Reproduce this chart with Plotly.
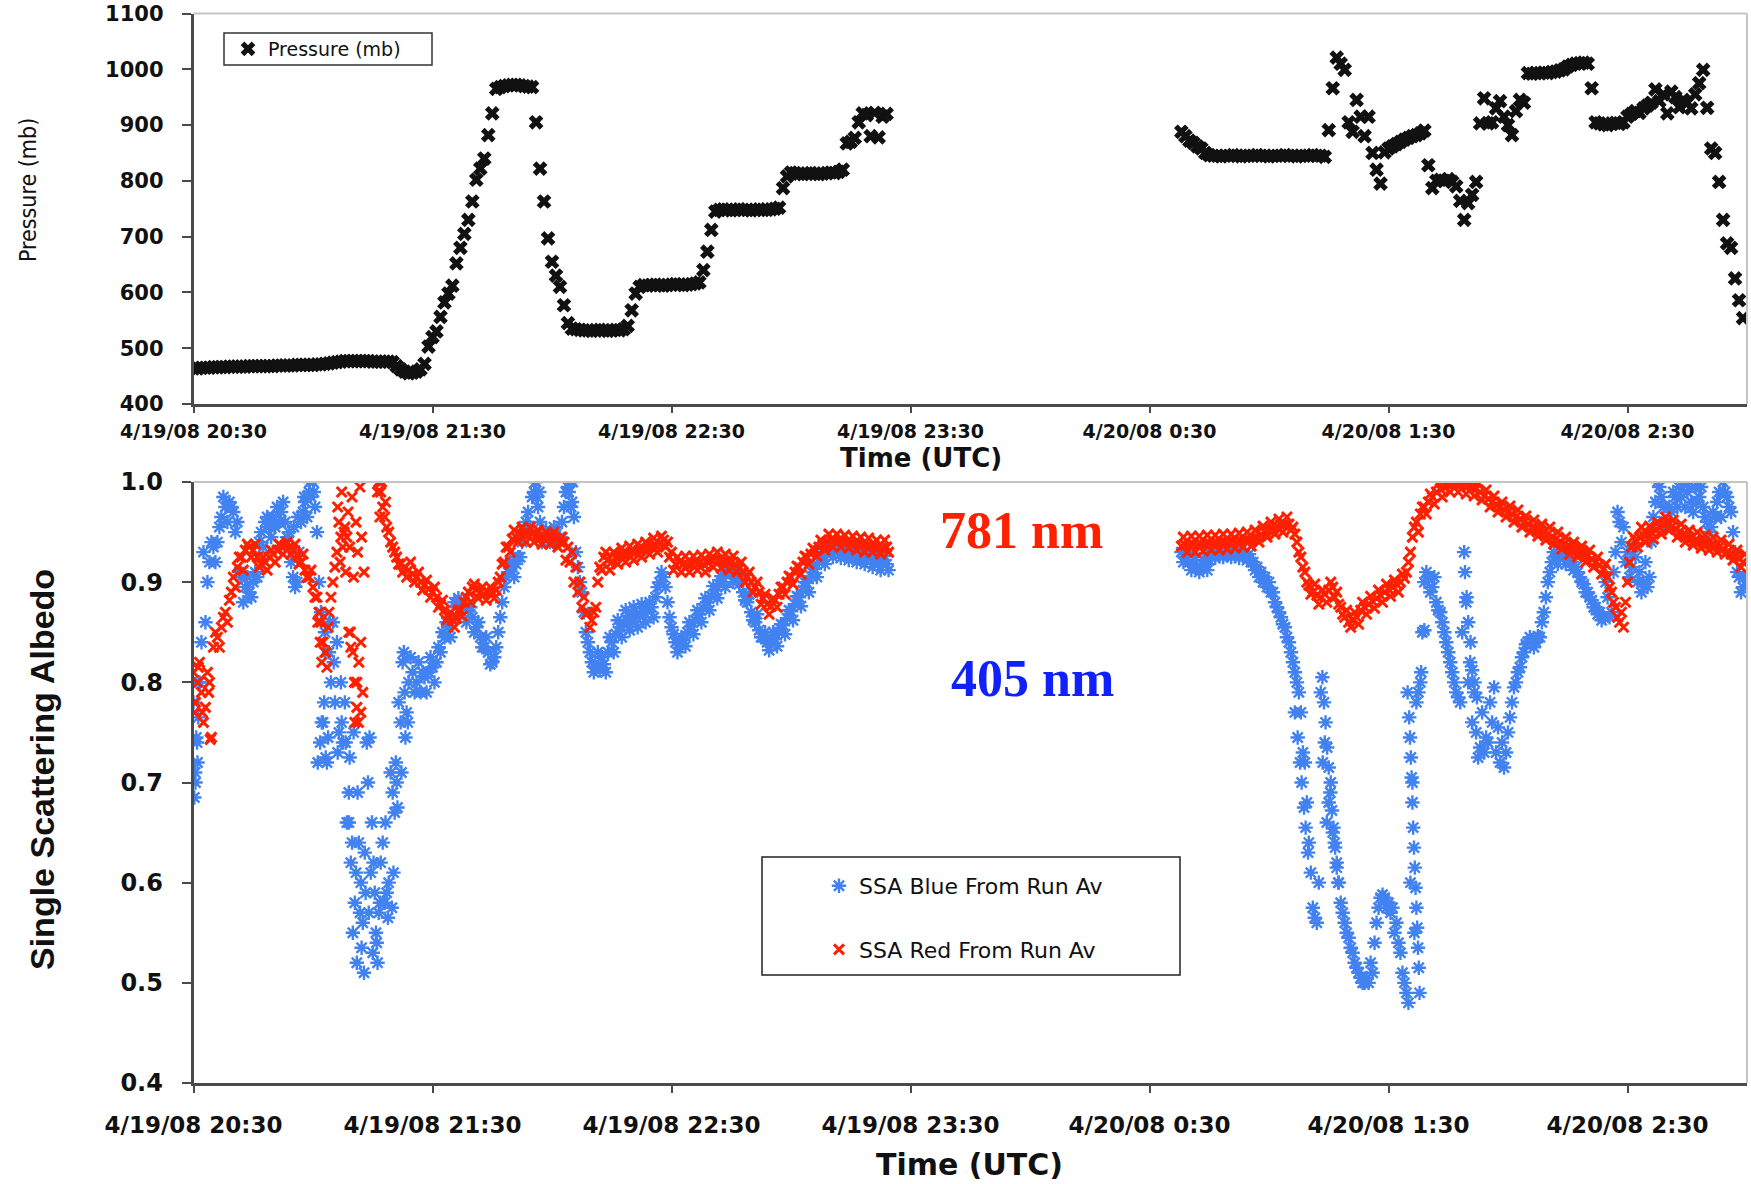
import pandas as pd
import plotly.graph_objects as go

# ---------------------------------------------------------------------------
# Flight record, 19-20 April 2008. Samples are logged once a minute; the SSA
# channels also carry a second sample half a minute later ("_b" lists).
# ---------------------------------------------------------------------------
SEG1_START = "2008-04-19 20:30:00"
SEG2_START = "2008-04-20 00:38:00"

pressure_seg1 = [
    464, 464, 465, 465, 465, 466, 466, 466, 466, 467,
    467, 467, 467, 467, 468, 468, 468, 468, 468, 468,
    468, 469, 469, 469, 469, 469, 470, 470, 470, 470,
    470, 471, 471, 472, 473, 474, 475, 476, 477, 477,
    477, 477, 477, 477, 477, 476, 476, 476, 476, 476,
    475, 468, 462, 458, 455, 456, 458, 462, 472, 503,
    520, 530, 556, 582, 598, 612, 652, 680, 705, 730,
    763, 802, 822, 840, 882, 921, 965, 968, 970, 971,
    972, 972, 971, 970, 969, 968, 905, 822, 763, 697,
    655, 630, 610, 577, 545, 535, 534, 533, 532, 532,
    531, 532, 533, 532, 531, 532, 533, 532, 534, 540,
    568, 598, 610, 613, 612, 613, 614, 613, 612, 613,
    614, 615, 614, 613, 614, 615, 616, 618, 640, 673,
    712, 745, 748, 749, 748, 747, 748, 749, 748, 748,
    747, 748, 749, 748, 748, 749, 750, 752, 787, 808,
    815, 814, 813, 812, 813, 814, 813, 812, 813, 814,
    815, 814, 816, 820, 867, 870, 877, 905, 921, 918,
    880, 922, 878, 915, 920,
]
pressure_seg2 = [
    888, 880, 872, 868, 862, 858, 850, 846, 845, 845,
    844, 845, 845, 846, 845, 844, 845, 845, 845, 846,
    845, 845, 844, 845, 845, 845, 846, 845, 845, 844,
    845, 845, 845, 846, 845, 845, 843, 891, 966, 1021,
    1010, 999, 905, 888, 945, 915, 880, 915, 850, 820,
    795, 851, 858, 862, 866, 870, 874, 877, 880, 882,
    885, 890, 828, 787, 800, 802, 800, 803, 798, 790,
    764, 730, 760, 775, 798, 903, 948, 903, 905, 930,
    943, 915, 900, 882, 925, 945, 940, 993, 992, 993,
    993, 994, 993, 995, 996, 998, 1000, 1005, 1008, 1010,
    1011, 1012, 1010, 966, 905, 903, 901, 900, 903, 904,
    902, 905, 915, 920, 925, 922, 930, 935, 940, 964,
    943, 955, 921, 960, 950, 932, 945, 940, 930, 955,
    975, 999, 931, 858, 850, 798, 730, 688, 680, 625,
    586, 554,
]

# SSA at 405 nm (blue channel)
blue_seg1_a = [
    0.78, 0.72, 0.84, 0.86, 0.92, 0.935, 0.94, 0.965, 0.975, 0.98,
    0.97, 0.96, 0.905, 0.895, 0.89, 0.90, 0.905, 0.95, 0.96, 0.955,
    0.965, 0.975, 0.97, 0.96, 0.95, 0.905, 0.90, 0.96, 0.98, 0.99,
    1.0, 0.95, 0.87, 0.85, 0.83, 0.86, 0.84, 0.80, 0.78, 0.69,
    0.55, 0.52, 0.60, 0.63, 0.57, 0.53, 0.54, 0.62, 0.58, 0.60,
    0.69, 0.70, 0.76, 0.79, 0.80, 0.81, 0.80, 0.79, 0.805, 0.81,
    0.815, 0.82, 0.83, 0.845, 0.855, 0.865, 0.875, 0.88, 0.878, 0.872,
    0.865, 0.855, 0.845, 0.835, 0.83, 0.82, 0.835, 0.865, 0.895, 0.91,
    0.915, 0.918, 0.925, 0.95, 0.97, 0.985, 1.0, 0.96, 0.945, 0.945,
    0.95, 0.948, 0.945, 0.975, 0.995, 0.98, 0.93, 0.90, 0.87, 0.84,
    0.82, 0.815, 0.812, 0.818, 0.83, 0.84, 0.848, 0.855, 0.86, 0.862,
    0.864, 0.866, 0.868, 0.87, 0.872, 0.875, 0.885, 0.90, 0.905, 0.88,
    0.855, 0.84, 0.838, 0.842, 0.85, 0.856, 0.862, 0.868, 0.874, 0.88,
    0.886, 0.892, 0.898, 0.904, 0.91, 0.91, 0.905, 0.898, 0.89, 0.88,
    0.87, 0.86, 0.852, 0.845, 0.84, 0.84, 0.843, 0.85, 0.857, 0.864,
    0.871, 0.878, 0.885, 0.892, 0.899, 0.906, 0.913, 0.92, 0.926, 0.93,
    0.932, 0.932, 0.931, 0.93, 0.93, 0.929, 0.928, 0.927, 0.926, 0.925,
    0.924, 0.922, 0.92, 0.92, 0.918,
]
blue_seg1_b = [
    0.70, 0.80, 0.93, 0.90, 0.94, 0.92, 0.955, 0.985, 0.96, 0.975,
    0.95, 0.91, 0.88, 0.905, 0.885, 0.91, 0.94, 0.935, 0.965, 0.945,
    0.955, 0.96, 0.98, 0.945, 0.92, 0.895, 0.93, 0.97, 0.965, 0.985,
    0.975, 0.90, 0.76, 0.72, 0.80, 0.78, 0.75, 0.74, 0.66, 0.62,
    0.58, 0.64, 0.56, 0.74, 0.61, 0.59, 0.57, 0.64, 0.59, 0.71,
    0.67, 0.78, 0.82, 0.77, 0.825, 0.79, 0.82, 0.81, 0.79, 0.825,
    0.80, 0.835, 0.85, 0.86, 0.845, 0.88, 0.884, 0.876, 0.86, 0.875,
    0.85, 0.86, 0.835, 0.845, 0.818, 0.825, 0.85, 0.88, 0.905, 0.92,
    0.905, 0.925, 0.94, 0.96, 0.955, 0.99, 0.975, 0.94, 0.952, 0.94,
    0.955, 0.942, 0.96, 0.99, 1.0, 0.965, 0.915, 0.89, 0.85, 0.83,
    0.81, 0.83, 0.825, 0.81, 0.845, 0.83, 0.862, 0.845, 0.872, 0.852,
    0.875, 0.855, 0.878, 0.86, 0.88, 0.865, 0.895, 0.91, 0.895, 0.865,
    0.848, 0.83, 0.845, 0.836, 0.86, 0.848, 0.872, 0.86, 0.884, 0.872,
    0.896, 0.884, 0.906, 0.895, 0.915, 0.90, 0.912, 0.905, 0.882, 0.888,
    0.862, 0.868, 0.845, 0.85, 0.832, 0.85, 0.836, 0.858, 0.848, 0.872,
    0.862, 0.886, 0.876, 0.90, 0.89, 0.914, 0.905, 0.928, 0.918, 0.936,
    0.925, 0.938, 0.924, 0.936, 0.922, 0.934, 0.92, 0.932, 0.918, 0.93,
    0.915, 0.928, 0.912, 0.926, 0.912,
]
blue_seg2_a = [
    0.93, 0.925, 0.92, 0.918, 0.915, 0.915, 0.918, 0.922, 0.93, 0.932,
    0.93, 0.931, 0.932, 0.93, 0.931, 0.932, 0.93, 0.928, 0.92, 0.915,
    0.91, 0.905, 0.90, 0.89, 0.875, 0.865, 0.855, 0.84, 0.82, 0.80,
    0.77, 0.72, 0.64, 0.575, 0.56, 0.79, 0.74, 0.68, 0.65, 0.62,
    0.58, 0.56, 0.545, 0.53, 0.515, 0.505, 0.50, 0.50, 0.51, 0.56,
    0.585, 0.585, 0.58, 0.575, 0.56, 0.53, 0.50, 0.48, 0.70, 0.78,
    0.80, 0.90, 0.905, 0.895, 0.88, 0.87, 0.85, 0.83, 0.81, 0.79,
    0.78, 0.93, 0.80, 0.76, 0.75, 0.735, 0.73, 0.74, 0.76, 0.73,
    0.72, 0.715, 0.75, 0.78, 0.80, 0.815, 0.83, 0.84, 0.842, 0.84,
    0.845, 0.87, 0.90, 0.92, 0.925, 0.928, 0.925, 0.922, 0.92, 0.915,
    0.905, 0.898, 0.89, 0.882, 0.875, 0.87, 0.865, 0.885, 0.87, 0.93,
    0.96, 0.955, 0.93, 0.915, 0.925, 0.91, 0.90, 0.895, 0.94, 0.98,
    0.995, 0.975, 0.96, 0.97, 0.985, 0.995, 1.0, 0.99, 0.98, 0.995,
    0.985, 0.975, 0.96, 0.955, 0.965, 0.99, 1.0, 0.985, 0.97, 0.93,
    0.905, 0.895,
]
blue_seg2_b = [
    0.92, 0.93, 0.912, 0.925, 0.91, 0.922, 0.912, 0.928, 0.924, 0.926,
    0.925, 0.927, 0.925, 0.926, 0.924, 0.926, 0.922, 0.92, 0.912, 0.905,
    0.90, 0.895, 0.89, 0.88, 0.87, 0.858, 0.845, 0.83, 0.81, 0.79,
    0.73, 0.68, 0.61, 0.565, 0.60, 0.72, 0.66, 0.70, 0.64, 0.60,
    0.57, 0.55, 0.535, 0.52, 0.51, 0.50, 0.505, 0.52, 0.54, 0.575,
    0.588, 0.575, 0.57, 0.55, 0.54, 0.51, 0.49, 0.60, 0.55, 0.79,
    0.85, 0.91, 0.89, 0.905, 0.872, 0.86, 0.84, 0.82, 0.80, 0.785,
    0.85, 0.88, 0.82, 0.79, 0.725, 0.77, 0.745, 0.78, 0.795, 0.755,
    0.74, 0.73, 0.765, 0.795, 0.81, 0.825, 0.838, 0.845, 0.835, 0.846,
    0.86, 0.885, 0.91, 0.93, 0.918, 0.93, 0.918, 0.928, 0.912, 0.91,
    0.90, 0.89, 0.885, 0.875, 0.868, 0.862, 0.90, 0.865, 0.91, 0.97,
    0.94, 0.92, 0.905, 0.935, 0.90, 0.89, 0.92, 0.905, 0.965, 1.0,
    0.985, 0.955, 0.975, 0.99, 0.975, 0.985, 0.975, 1.0, 0.97, 0.98,
    0.995, 0.965, 0.95, 0.97, 0.98, 0.965, 0.99, 0.975, 0.95, 0.91,
    0.89, 0.905,
]
# isolated blue readings between the regular samples
blue_extra_time = [
    "20:30:12", "20:30:24", "20:30:42", "20:30:54", "20:31:12", "20:31:24",
    "20:55:12", "20:56:12", "20:57:48", "20:59:12", "21:00:12",
    "21:01:12", "21:01:48", "21:02:12", "21:02:48", "21:03:12", "21:03:48",
    "21:04:12", "21:05:12", "21:06:12", "21:07:12", "21:08:12", "21:09:12",
    "21:10:12", "21:09:00", "21:09:48", "21:10:48", "21:11:12", "21:11:48",
    "21:12:12", "21:12:48", "21:13:12", "21:13:48", "21:14:12", "21:14:48",
    "21:15:12", "21:15:48", "21:16:12", "21:16:48", "21:18:12", "21:18:48",
    "21:19:48", "21:20:12", "21:20:48", "21:21:12", "21:22:12", "21:22:48",
    "21:23:12", "21:23:48", "21:55:48", "21:56:12", "21:56:48", "22:04:12",
    "22:04:48", "22:05:12",
    "01:06:30", "01:07:12", "01:07:48", "01:08:12", "01:08:48", "01:09:12",
    "01:09:48", "01:13:24", "01:13:48", "01:14:12", "01:14:36", "01:15:00",
    "01:15:24", "01:15:48", "01:16:12", "01:16:36", "01:17:00", "01:17:24",
    "01:34:48", "01:35:12", "01:35:24", "01:35:36", "01:35:48", "01:36:00",
    "01:36:12", "01:36:24", "01:36:36", "01:36:48", "01:37:00", "01:37:12",
    "01:37:24", "01:37:36", "01:37:48", "01:38:12", "01:39:00",
    "01:49:12", "01:49:36", "01:50:00", "01:50:36", "01:51:00", "01:51:36",
    "01:52:12",
]
blue_extra_val = [
    0.685, 0.71, 0.745, 0.74, 0.765, 0.80,
    0.955, 0.965, 0.985, 1.0, 0.99,
    0.72, 0.74, 0.76, 0.78, 0.725, 0.745,
    0.86, 0.82, 0.73, 0.76, 0.74, 0.725,
    0.75, 0.66, 0.64, 0.61, 0.69, 0.57,
    0.535, 0.51, 0.59, 0.70, 0.745, 0.66,
    0.62, 0.55, 0.52, 0.58, 0.66, 0.565,
    0.575, 0.61, 0.72, 0.675, 0.71, 0.83,
    0.745, 0.76, 1.0, 0.985, 0.99, 0.99,
    0.975, 1.0,
    0.77, 0.745, 0.72, 0.70, 0.675, 0.655,
    0.63, 0.805, 0.78, 0.76, 0.735, 0.715,
    0.69, 0.672, 0.655, 0.635, 0.615, 0.60,
    0.79, 0.765, 0.745, 0.725, 0.705, 0.68,
    0.655, 0.635, 0.615, 0.595, 0.575, 0.555,
    0.535, 0.515, 0.49, 0.81, 0.852,
    0.91, 0.885, 0.86, 0.84, 0.812, 0.80,
    0.785,
]

# SSA at 781 nm (red channel); None = no valid sample
red_seg1_a = [
    0.81, 0.80, 0.79, 0.775, 0.80, 0.835, 0.845, 0.855, 0.87, 0.882,
    0.905, 0.915, 0.925, 0.932, 0.935, 0.932, 0.925, 0.918, 0.92, 0.925,
    0.928, 0.932, 0.936, 0.937, 0.935, 0.932, 0.927, 0.92, 0.912, 0.905,
    0.895, 0.885, 0.86, 0.83, 0.87, 0.90, 0.93, 0.945, 0.955, 0.85,
    0.83, 0.80, 0.77, None, None, None, None, 0.99, 0.965, 0.95,
    0.935, 0.925, 0.918, 0.915, 0.912, 0.908, 0.905, 0.90, 0.897, 0.893,
    0.89, 0.885, 0.878, 0.872, 0.865, 0.862, 0.864, 0.872, 0.88, 0.89,
    0.895, 0.893, 0.89, 0.888, 0.89, 0.89, 0.892, 0.905, 0.92, 0.935,
    0.943, 0.945, 0.948, 0.948, 0.947, 0.948, 0.946, 0.945, 0.944, 0.946,
    0.945, 0.943, 0.94, 0.94, 0.935, 0.93, 0.915, 0.90, 0.885, 0.87,
    0.862, 0.875, 0.915, 0.925, 0.922, 0.92, 0.925, 0.926, 0.927, 0.928,
    0.93, 0.93, 0.932, 0.933, 0.934, 0.935, 0.937, 0.938, 0.942, 0.94,
    0.93, 0.918, 0.92, 0.918, 0.917, 0.918, 0.92, 0.919, 0.918, 0.92,
    0.922, 0.923, 0.922, 0.92, 0.921, 0.92, 0.918, 0.914, 0.91, 0.905,
    0.90, 0.895, 0.89, 0.884, 0.878, 0.876, 0.882, 0.888, 0.895, 0.90,
    0.905, 0.91, 0.915, 0.92, 0.925, 0.928, 0.932, 0.935, 0.938, 0.94,
    0.942, 0.942, 0.942, 0.941, 0.94, 0.94, 0.939, 0.938, 0.938, 0.937,
    0.936, 0.935, 0.935, 0.934, 0.935,
]
red_seg1_b = [
    0.78, 0.82, 0.76, 0.81, 0.745, 0.85, 0.835, 0.865, 0.86, 0.89,
    0.895, 0.925, 0.912, 0.938, 0.925, 0.938, 0.915, 0.925, 0.912, 0.932,
    0.92, 0.938, 0.928, 0.94, 0.928, 0.938, 0.918, 0.928, 0.905, 0.912,
    0.885, 0.87, 0.84, 0.815, 0.885, 0.915, 0.96, 0.935, 0.945, 0.835,
    0.76, 0.82, 0.79, None, None, None, 1.0, 0.975, 0.955, 0.94,
    0.93, 0.918, 0.91, 0.905, 0.92, 0.90, 0.91, 0.892, 0.902, 0.885,
    0.895, 0.875, 0.882, 0.862, 0.87, 0.855, 0.872, 0.866, 0.885, 0.88,
    0.898, 0.884, 0.895, 0.882, 0.895, 0.884, 0.90, 0.918, 0.935, 0.93,
    0.952, 0.94, 0.955, 0.94, 0.955, 0.94, 0.952, 0.938, 0.95, 0.938,
    0.95, 0.935, 0.945, 0.922, 0.92, 0.90, 0.89, 0.875, 0.868, 0.855,
    0.87, 0.90, 0.912, 0.93, 0.912, 0.93, 0.918, 0.934, 0.92, 0.936,
    0.922, 0.938, 0.925, 0.94, 0.928, 0.944, 0.93, 0.946, 0.935, 0.925,
    0.912, 0.925, 0.91, 0.926, 0.91, 0.926, 0.912, 0.927, 0.91, 0.928,
    0.915, 0.93, 0.914, 0.928, 0.912, 0.926, 0.91, 0.92, 0.90, 0.91,
    0.89, 0.90, 0.878, 0.888, 0.868, 0.884, 0.875, 0.895, 0.888, 0.906,
    0.898, 0.916, 0.908, 0.926, 0.918, 0.934, 0.926, 0.942, 0.932, 0.948,
    0.935, 0.948, 0.935, 0.947, 0.934, 0.946, 0.932, 0.945, 0.93, 0.944,
    0.93, 0.942, 0.928, 0.942, 0.93,
]
red_seg2_a = [
    0.936, 0.937, 0.937, 0.938, 0.937, 0.938, 0.938, 0.939, 0.938, 0.939,
    0.94, 0.94, 0.94, 0.941, 0.94, 0.941, 0.942, 0.942, 0.943, 0.945,
    0.947, 0.95, 0.952, 0.953, 0.955, 0.957, 0.958, 0.958, 0.955, 0.94,
    0.925, 0.91, 0.897, 0.89, 0.887, 0.885, 0.888, 0.892, 0.895, 0.89,
    0.875, 0.865, 0.86, 0.862, 0.865, 0.872, 0.875, 0.878, 0.881, 0.884,
    0.887, 0.89, 0.893, 0.895, 0.898, 0.90, 0.904, 0.92, 0.945, 0.96,
    0.968, 0.975, 0.98, 0.985, 0.99, 0.993, 0.995, 0.997, 0.998, 0.998,
    0.997, 0.997, 0.996, 0.995, 0.993, 0.99, 0.986, 0.983, 0.98, 0.977,
    0.975, 0.972, 0.97, 0.968, 0.965, 0.963, 0.96, 0.958, 0.955, 0.953,
    0.952, 0.95, 0.948, 0.945, 0.943, 0.94, 0.938, 0.936, 0.934, 0.932,
    0.93, 0.928, 0.926, 0.923, 0.92, 0.917, 0.913, 0.905, 0.89, 0.875,
    0.86, 0.855, 0.90, 0.935, 0.942, 0.945, 0.947, 0.948, 0.95, 0.952,
    0.955, 0.958, 0.96, 0.955, 0.953, 0.95, 0.948, 0.946, 0.944, 0.942,
    0.94, 0.94, 0.938, 0.937, 0.936, 0.935, 0.933, 0.93, 0.928, 0.926,
    0.924, 0.92,
]
red_seg2_b = [
    0.945, 0.93, 0.946, 0.93, 0.946, 0.931, 0.947, 0.932, 0.947, 0.932,
    0.948, 0.933, 0.948, 0.934, 0.949, 0.935, 0.95, 0.936, 0.952, 0.94,
    0.956, 0.945, 0.96, 0.948, 0.963, 0.95, 0.965, 0.952, 0.948, 0.93,
    0.915, 0.90, 0.888, 0.898, 0.878, 0.892, 0.88, 0.90, 0.885, 0.878,
    0.868, 0.872, 0.855, 0.87, 0.858, 0.88, 0.868, 0.886, 0.874, 0.892,
    0.88, 0.898, 0.886, 0.902, 0.89, 0.908, 0.91, 0.93, 0.955, 0.95,
    0.975, 0.968, 0.988, 0.978, 0.998, 0.985, 1.0, 0.99, 1.0, 0.99,
    1.0, 0.988, 1.0, 0.986, 0.998, 0.982, 0.992, 0.975, 0.986, 0.97,
    0.98, 0.965, 0.976, 0.96, 0.972, 0.955, 0.966, 0.95, 0.962, 0.946,
    0.958, 0.942, 0.955, 0.938, 0.95, 0.933, 0.945, 0.928, 0.94, 0.925,
    0.936, 0.92, 0.932, 0.915, 0.925, 0.908, 0.918, 0.895, 0.88, 0.865,
    0.87, 0.88, 0.92, 0.945, 0.935, 0.955, 0.94, 0.956, 0.943, 0.96,
    0.948, 0.965, 0.952, 0.962, 0.945, 0.958, 0.94, 0.952, 0.937, 0.95,
    0.934, 0.947, 0.932, 0.945, 0.93, 0.942, 0.928, 0.938, 0.922, 0.932,
    0.915, 0.928,
]
red_extra_time = [
    "20:30:18", "20:31:12", "20:32:12", "20:33:48", "20:34:12",
    "21:01:12", "21:01:48", "21:02:12", "21:03:12", "21:03:48",
    "21:06:12", "21:06:48", "21:07:12", "21:07:48", "21:08:12", "21:08:48",
    "21:09:12", "21:09:48", "21:10:12", "21:10:48", "21:11:12", "21:11:48",
    "21:12:12", "21:12:48", "21:09:24", "21:10:24", "21:11:00", "21:11:24",
    "21:12:00", "21:16:12", "21:16:48", "21:17:12", "21:18:12",
]
red_extra_val = [
    0.77, 0.815, 0.77, 0.79, 0.743,
    0.86, 0.84, 0.82, 0.83, 0.855,
    0.975, 0.92, 0.99, 0.95, 0.91, 0.97,
    0.935, 0.985, 0.905, 0.96, 0.93, 0.995,
    0.945, 0.91, 0.85, 0.80, 0.775, 0.76,
    0.84, 0.99, 0.965, 1.0, 0.98,
]

# axis ticks
tick_times = ["2008-04-19 20:30", "2008-04-19 21:30", "2008-04-19 22:30",
              "2008-04-19 23:30", "2008-04-20 00:30", "2008-04-20 01:30",
              "2008-04-20 02:30"]
tick_labels = ["4/19/08 20:30", "4/19/08 21:30", "4/19/08 22:30",
               "4/19/08 23:30", "4/20/08 0:30", "4/20/08 1:30",
               "4/20/08 2:30"]
time_range = ["2008-04-19 20:30", "2008-04-20 03:00"]


def minute_grid(start, n, offset_s=0):
    return list(pd.date_range(start, periods=n, freq="min")
                + pd.Timedelta(seconds=offset_s))


def clock_to_stamp(clock):
    day = "2008-04-19" if int(clock[:2]) >= 12 else "2008-04-20"
    return pd.Timestamp(f"{day} {clock}")


def ssa_series(s1a, s1b, s2a, s2b, extra_t, extra_v):
    x = (minute_grid(SEG1_START, len(s1a)) + minute_grid(SEG1_START, len(s1b), 30)
         + minute_grid(SEG2_START, len(s2a)) + minute_grid(SEG2_START, len(s2b), 30)
         + [clock_to_stamp(c) for c in extra_t])
    y = s1a + s1b + s2a + s2b + extra_v
    return x, y


p_x = minute_grid(SEG1_START, len(pressure_seg1)) + minute_grid(SEG2_START, len(pressure_seg2))
p_y = pressure_seg1 + pressure_seg2
b_x, b_y = ssa_series(blue_seg1_a, blue_seg1_b, blue_seg2_a, blue_seg2_b,
                      blue_extra_time, blue_extra_val)
r_x, r_y = ssa_series(red_seg1_a, red_seg1_b, red_seg2_a, red_seg2_b,
                      red_extra_time, red_extra_val)

W, H = 1751, 1184
X_DOM = [193.5 / W, 1747 / W]
TOP_DOM = [1 - 404 / H, 1 - 13.5 / H]
BOT_DOM = [1 - 1083 / H, 1 - 482 / H]

BLUE = "#4282f0"
RED = "#ff2000"
AXIS = "#4a4a4a"
TICK_FONT = "DejaVu Sans"

fig = go.Figure()
fig.add_trace(go.Scatter(
    x=p_x, y=p_y, mode="markers", name="Pressure (mb)", showlegend=True,
    marker=dict(symbol="x", size=13, color="#111111", line=dict(width=0)),
    xaxis="x", yaxis="y", legend="legend", legendgroup="p",
))
fig.add_trace(go.Scatter(
    x=b_x, y=b_y, mode="markers", name="SSA Blue From Run Av", showlegend=True,
    marker=dict(symbol="asterisk-open", size=12, color=BLUE,
                line=dict(width=2.4, color=BLUE)),
    xaxis="x2", yaxis="y2", legend="legend2", legendgroup="b",
))
fig.add_trace(go.Scatter(
    x=r_x, y=r_y, mode="markers", name="SSA Red From Run Av", showlegend=True,
    marker=dict(symbol="x-thin-open", size=10, color=RED,
                line=dict(width=3, color=RED)),
    xaxis="x2", yaxis="y2", legend="legend2", legendgroup="r",
))

common_x = dict(
    type="date", range=time_range, tickmode="array", tickvals=tick_times,
    ticktext=tick_labels, showgrid=False, zeroline=False, showline=True,
    linecolor=AXIS, linewidth=2.5, ticks="outside", tickcolor=AXIS, tickwidth=2,
    automargin=False,
)
common_y = dict(
    showgrid=False, zeroline=False, showline=True, linecolor=AXIS, linewidth=2.5,
    ticks="outside", tickcolor=AXIS, tickwidth=2, ticklen=9, automargin=False,
)

fig.update_layout(
    width=W, height=H, margin=dict(l=0, r=0, t=0, b=0, autoexpand=False),
    paper_bgcolor="white", plot_bgcolor="white", showlegend=True,
    xaxis=dict(common_x, domain=X_DOM, anchor="y", ticklen=6, ticklabelstandoff=2,
               tickfont=dict(family=TICK_FONT, size=19, color="#111", weight="bold")),
    yaxis=dict(common_y, domain=TOP_DOM, anchor="x", range=[400, 1100], dtick=100,
               tick0=400, ticklabelstandoff=14,
               tickfont=dict(family=TICK_FONT, size=21, color="#111", weight="bold")),
    xaxis2=dict(common_x, domain=X_DOM, anchor="y2", ticklen=7, ticklabelstandoff=13,
                tickfont=dict(family=TICK_FONT, size=23, color="#111", weight="bold")),
    yaxis2=dict(common_y, domain=BOT_DOM, anchor="x2", range=[0.4, 1.0], dtick=0.1,
                tick0=0.4, tickformat=".1f", ticklabelstandoff=14,
                tickfont=dict(family=TICK_FONT, size=24, color="#111", weight="bold")),
    legend=dict(visible=True, x=(268 - 40) / W, y=1 - 49 / H, xanchor="left",
                yanchor="middle", bgcolor="rgba(0,0,0,0)", borderwidth=0,
                font=dict(family="DejaVu Sans", size=19, color="#111")),
    legend2=dict(visible=True, x=(859 - 40) / W, y=1 - 918 / H, xanchor="left",
                 yanchor="middle", bgcolor="rgba(0,0,0,0)", borderwidth=0,
                 tracegroupgap=32,
                 font=dict(family="DejaVu Sans", size=22, color="#111")),
)

# light frame on the top and right of each panel
frame = dict(type="line", xref="paper", yref="paper",
             line=dict(color="#c4c4c4", width=2))
for dom in (TOP_DOM, BOT_DOM):
    fig.add_shape(frame, x0=X_DOM[0], x1=X_DOM[1], y0=dom[1], y1=dom[1])
    fig.add_shape(frame, x0=X_DOM[1], x1=X_DOM[1], y0=dom[0], y1=dom[1])

# legend boxes
fig.add_shape(type="rect", xref="paper", yref="paper",
              x0=224 / W, x1=432 / W, y0=1 - 65 / H, y1=1 - 33 / H,
              line=dict(color="#333", width=1.5))
fig.add_shape(type="rect", xref="paper", yref="paper",
              x0=762 / W, x1=1180 / W, y0=1 - 975 / H, y1=1 - 857 / H,
              line=dict(color="#222", width=1.5))


def label(text, x, y, size, family, color="#111", bold=True, angle=0):
    fig.add_annotation(text=text, x=x / W, y=1 - y / H, xref="paper", yref="paper",
                       showarrow=False, textangle=angle, xanchor="center",
                       yanchor="middle",
                       font=dict(family=family, size=size, color=color,
                                 weight="bold" if bold else "normal"))


label("Time (UTC)", 921, 458, 26, TICK_FONT)
label("Time (UTC)", 969, 1164, 30, TICK_FONT)
label("Pressure (mb)", 28, 190, 23, "DejaVu Sans Condensed", bold=False, angle=-90)
label("Single Scattering Albedo", 42, 770, 34, "Liberation Sans", angle=-90)
label("781 nm", 1021, 530, 52, "Liberation Serif", color="#ff2000")
label("405 nm", 1032, 678, 52, "Liberation Serif", color="#1020ff")

fig.write_html("out.html")
